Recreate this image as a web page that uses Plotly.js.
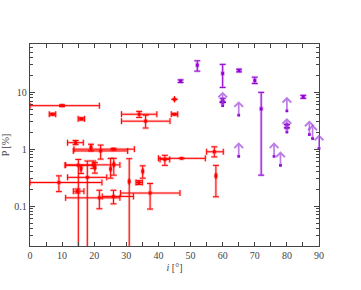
<!DOCTYPE html>
<html><head><meta charset="utf-8">
<script src="https://cdn.plot.ly/plotly-3.0.1.min.js"></script>
<style>html,body{margin:0;padding:0;background:#fff;}#plot{width:361px;height:290px;}</style>
</head><body><div id="plot"></div>
<script>
// Red points (x = inclination, y = polarisation), with error bounds (null = none)
const redX   = [10, 7, 16, 34, 36, 45, 45, 14.2, 19, 22, 26, 15.05, 15.9, 19.7, 20.2, 25.1, 26.1, 17.85, 30.9, 9.0, 14.8, 21.6, 26, 33.9, 35.1, 37.4, 42, 47.2, 57.4, 57.9];
const redY   = [5.8, 4.1, 3.4, 4.1, 3.1, 7.5, 4.1, 1.3, 1.07, 0.93, 1.0, 0.52, 0.46, 0.53, 0.48, 0.45, 0.54, 0.32, 0.27, 0.26, 0.183, 0.14, 0.148, 0.26, 0.41, 0.17, 0.66, 0.69, 0.9, 0.34];
const redXLo = [0, 6, 15, 28.5, 28.5, null, 44, 11.7, null, 13.5, 13.7, 10.9, null, 11.1, null, null, null, 11.7, null, 0, 13.5, 11.1, 22.5, 33, null, 28.2, 40.5, 40, 55, null];
const redXHi = [21.6, 8, 17, 39.5, 43.6, null, 46, 16.6, null, 30.4, 32.5, 20.2, null, 28, null, null, null, 23.9, null, 22.4, 16.8, 28, 32.2, 35, null, 46.7, 43.5, 54.6, 60.2, null];
const redYLo = [5.6, 3.95, 3.25, 3.6, 2.35, null, 4.0, 1.2, 0.93, 0.67, 0.97, 0.005, 0.375, 0.46, 0.38, 0.31, 0.35, 0.005, 0.005, 0.18, 0.17, 0.09, 0.11, 0.24, 0.31, 0.089, 0.52, null, 0.73, 0.146];
const redYHi = [6.0, 4.25, 3.55, 4.6, 3.95, null, 4.2, 1.42, 1.22, 1.18, 1.03, 0.66, 0.52, 0.62, 0.58, 0.69, 0.69, 0.62, 0.68, 0.34, 0.2, 0.19, 0.19, 0.28, 0.51, 0.25, 0.78, null, 1.1, 0.52];

// Purple points with error bounds
const purX   = [46.9, 52.1, 60, 65.1, 70, 85.1, 72, 60, 60, 80, 80];
const purY   = [15.6, 29.8, 21.3, 24, 16, 8.3, 5.1, 7.3, 6.6, 2.7, 2.37];
const purYLo = [14.8, 23.4, 12.1, 22.7, 14.2, 7.8, 0.35, 6.8, null, null, null];
const purYHi = [16.4, 35.5, 30.7, 25.3, 18.3, 8.8, 9.9, 7.8, null, null, null];

// Purple lower limits (drawn with upward arrows)
const limX = [60, 65, 65, 80, 80, 76, 78, 87, 88, 90];
const limY = [5.8, 3.95, 0.75, 4.7, 2.0, 0.75, 0.52, 1.81, 1.54, 1.03];

// Axis tick labels
const xTickVals = [0, 10, 20, 30, 40, 50, 60, 70, 80, 90];
const yTickVals = [0.1, 1, 10];
const yTickText = ['0.1', '1', '10'];

function plusErr(v, hi) { return v.map((c, i) => hi[i] == null ? null : hi[i] - c); }
function minusErr(v, lo) { return v.map((c, i) => lo[i] == null ? null : c - lo[i]); }

const RED = '#ff0000', RED_HALO = 'rgba(255,0,0,0.22)';
const PUR = '#9400d3', PUR_HALO = 'rgba(148,0,211,0.25)';

function errTrace(x, y, ex, exm, ey, eym, color, thick, msize, mcolor) {
  const t = {
    x: x, y: y, type: 'scatter', mode: 'markers', showlegend: false, hoverinfo: 'skip',
    marker: {symbol: 'square', size: msize, color: mcolor},
    error_y: {type: 'data', symmetric: false, array: ey, arrayminus: eym, color: color, thickness: thick, width: 3}
  };
  if (ex) t.error_x = {type: 'data', symmetric: false, array: ex, arrayminus: exm, color: color, thickness: thick, width: 3};
  return t;
}

const rEx = plusErr(redX, redXHi), rExm = minusErr(redX, redXLo);
const rEy = plusErr(redY, redYHi), rEym = minusErr(redY, redYLo);
const pEy = plusErr(purY, purYHi), pEym = minusErr(purY, purYLo);

const traces = [
  errTrace(redX, redY, rEx, rExm, rEy, rEym, RED_HALO, 2.8, 4.5, RED_HALO),
  errTrace(redX, redY, rEx, rExm, rEy, rEym, RED, 1, 2.8, RED),
  errTrace(purX, purY, null, null, pEy, pEym, PUR_HALO, 2.8, 4.5, PUR_HALO),
  errTrace(purX, purY, null, null, pEy, pEym, PUR, 1, 2.8, PUR),
  {x: limX, y: limY, type: 'scatter', mode: 'markers', showlegend: false, hoverinfo: 'skip',
   marker: {symbol: 'square', size: 2.8, color: PUR}, cliponaxis: false}
];

const annotations = limX.map((x, i) => ({
  x: x, y: Math.log10(limY[i]), xref: 'x', yref: 'y',
  text: '', showarrow: true, ax: 0, ay: -14,
  font: {size: 1},
  borderpad: 0, borderwidth: 0, standoff: 0, startstandoff: 0,
  arrowside: 'start', startarrowhead: 4, startarrowsize: 1,
  arrowcolor: 'rgba(160,70,220,0.7)', arrowwidth: 1.7
}));

const minorY = [];
[0.01, 0.1, 1, 10].forEach(d => { for (let k = 2; k <= 9; k++) minorY.push(k * d); });

const font = {family: '"Liberation Serif", "DejaVu Serif", serif', size: 10, color: '#333'};

const layout = {
  width: 361, height: 290,
  margin: {l: 30, r: 42, t: 44, b: 44, pad: 0},
  paper_bgcolor: '#fff', plot_bgcolor: '#fff',
  font: font,
  showlegend: false,
  annotations: annotations,
  xaxis: {
    range: [0, 90], tickmode: 'array', tickvals: xTickVals,
    ticks: 'inside', ticklen: 4, tickwidth: 1, tickcolor: '#444',
    minor: {dtick: 5, ticks: 'inside', ticklen: 4, tickcolor: '#444'},
    showline: true, linecolor: '#444', linewidth: 1.2, mirror: 'allticks',
    showgrid: false, zeroline: false, automargin: false,
    tickfont: {family: font.family, size: 10, color: '#444'},
    title: {text: '<i>i</i> [°]', font: {family: font.family, size: 10, color: '#444'}, standoff: 3}
  },
  yaxis: {
    type: 'log', range: [Math.log10(0.02), Math.log10(70)],
    tickmode: 'array', tickvals: yTickVals, ticktext: yTickText,
    ticks: 'inside', ticklen: 5, tickwidth: 1, tickcolor: '#444',
    minor: {tickmode: 'array', tickvals: minorY, ticks: 'inside', ticklen: 3, tickcolor: '#444'},
    showline: true, linecolor: '#444', linewidth: 1.2, mirror: 'allticks',
    showgrid: false, zeroline: false, automargin: false,
    tickfont: {family: font.family, size: 10, color: '#444'},
    title: {text: 'P [%]', font: {family: font.family, size: 10, color: '#444'}, standoff: 4}
  }
};

Plotly.newPlot('plot', traces, layout, {staticPlot: true, displayModeBar: false});
</script></body></html>
